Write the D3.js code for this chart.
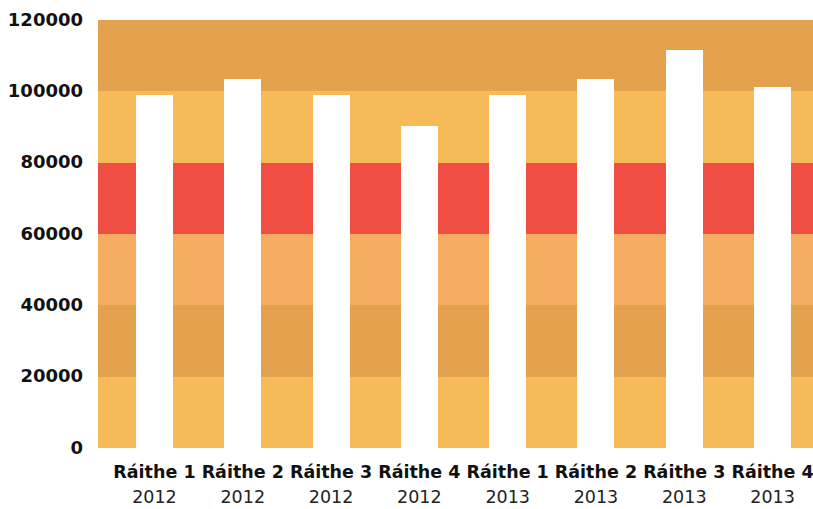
<!DOCTYPE html>
<html>
<head>
<meta charset="utf-8">
<script src="https://cdn.jsdelivr.net/npm/d3@7"></script>
<style>
  html, body { margin: 0; padding: 0; background: #fff; }
  svg { display: block; }
</style>
</head>
<body>
<svg id="chart" width="813" height="509"></svg>
<script>
const quarters = ["Ráithe 1", "Ráithe 2", "Ráithe 3", "Ráithe 4", "Ráithe 1", "Ráithe 2", "Ráithe 3", "Ráithe 4"];
const years = ["2012", "2012", "2012", "2012", "2013", "2013", "2013", "2013"];
const values = [99000, 103500, 99000, 90300, 99000, 103500, 111600, 101200];
const yTicks = [0, 20000, 40000, 60000, 80000, 100000, 120000];
const bandStops = [0, 20000, 40000, 60000, 80000, 100000, 120000];
const bandColors = ["#F7BA59", "#E5A24E", "#F6AC60", "#F04E42", "#F7BA59", "#E5A24E"];

const svg = d3.select("#chart");
const plotLeft = 98, plotRight = 813;

const y = d3.scaleLinear().domain([0, 120000]).range([448, 20]);
const ids = quarters.map((q, i) => i);
const x = d3.scaleBand().domain(ids).range([110.3, 816.7]).paddingInner(0.58).paddingOuter(0.29);

// background bands
svg.append("g").attr("shape-rendering", "crispEdges").selectAll("rect")
  .data(bandColors)
  .join("rect")
  .attr("x", plotLeft)
  .attr("width", plotRight - plotLeft)
  .attr("y", (d, i) => Math.round(y(bandStops[i + 1])))
  .attr("height", (d, i) => Math.round(y(bandStops[i])) - Math.round(y(bandStops[i + 1])))
  .attr("fill", d => d);

// bars
svg.append("g").attr("shape-rendering", "crispEdges").selectAll("rect")
  .data(values)
  .join("rect")
  .attr("x", (d, i) => x(i))
  .attr("width", x.bandwidth())
  .attr("y", d => y(d))
  .attr("height", d => y(0) - y(d))
  .attr("fill", "#ffffff");

// y axis
const yAxis = d3.axisLeft(y).tickValues(yTicks).tickFormat(d => String(d)).tickSize(0).tickPadding(0);
const gy = svg.append("g").attr("transform", "translate(83,0)").call(yAxis);
gy.select(".domain").remove();
gy.selectAll("text")
  .attr("font-family", "DejaVu Sans, sans-serif")
  .attr("font-weight", "bold")
  .attr("font-size", "18px")
  .attr("fill", "#111")
  .attr("dy", "0.28em");

// x axis
const xAxis = d3.axisBottom(x).tickFormat(i => quarters[i]).tickSize(0).tickPadding(0);
const gx = svg.append("g").attr("transform", "translate(0,448)").call(xAxis);
gx.select(".domain").remove();
gx.selectAll("text").remove();
const ticks = gx.selectAll(".tick");
ticks.append("text")
  .attr("y", 29.7)
  .attr("text-anchor", "middle")
  .attr("font-family", "DejaVu Sans, sans-serif")
  .attr("font-weight", "bold")
  .attr("font-size", "17.5px")
  .attr("fill", "#111")
  .text(i => quarters[i]);
ticks.append("text")
  .attr("y", 55)
  .attr("text-anchor", "middle")
  .attr("font-family", "DejaVu Sans, sans-serif")
  .attr("font-size", "17.5px")
  .attr("fill", "#222")
  .text(i => years[i]);
</script>
</body>
</html>
